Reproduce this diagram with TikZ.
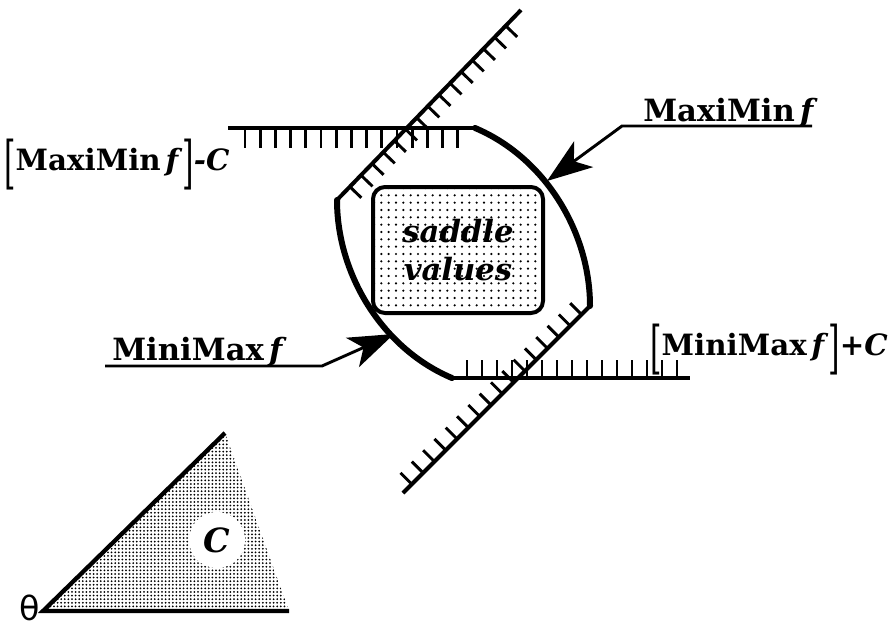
\documentclass[tikz,border=0pt]{standalone}
\usepackage{fontspec}
\setmainfont{DejaVu Serif}
\newfontfamily\thetafont{DejaVu Sans}
\usetikzlibrary{arrows.meta,patterns.meta}
\tikzset{
  hatchline/.style={line width=3pt},
  hatchtick/.style={line width=2.2pt},
  lensarc/.style={line width=4.5pt, line cap=round},
  pointer/.style={line width=2.2pt, line join=miter, -{Stealth[length=34pt,width=24pt,inset=9pt]}},
  lbl/.style={inner sep=0pt, font=\fontsize{23}{27}\selectfont\bfseries},
  brlbl/.style={inner sep=0pt, font=\fontsize{22}{26}\selectfont\bfseries},
  edgeline/.style={line width=3.2pt},
}
\newcommand{\lbrk}{\raisebox{-0.42em}{\scalebox{1}[1.95]{\mdseries[}}}
\newcommand{\rbrk}{\raisebox{-0.42em}{\scalebox{1}[1.95]{\mdseries]}}}
\begin{document}
\begin{tikzpicture}[x=0.75pt,y=-0.75pt]
\useasboundingbox (0,0) rectangle (893,628);
% triangle C
\coordinate (tv) at (43,611);
\coordinate (tt) at (225,433);
\coordinate (tr) at (289,611);
\fill[pattern={Dots[radius=0.75pt,distance=2.7pt]}] (tv) -- (tt) -- (tr) -- cycle;
\draw[edgeline] (tr) -- (tv) -- (tt);
\node[circle, fill=white, minimum size=42pt, inner sep=0pt, font=\fontsize{25}{28}\selectfont\bfseries\itshape] (cset) at (217,540) {C};
\node[anchor=base east, inner sep=1pt, font=\thetafont\fontsize{25}{28}\selectfont] (theta) at (41,620) {θ};
% saddle box
\node[draw, line width=3pt, rounded corners=9pt, pattern={Dots[radius=0.9pt,distance=5.5pt]},
  minimum width=127.5pt, minimum height=94.5pt, align=center,
  font=\fontsize{23}{29}\selectfont\bfseries\itshape] (sv) at (458,250) {saddle\\values};
% path A
\coordinate (ta) at (521,10);
\coordinate (ka) at (337,200);
\coordinate (la) at (452,378);
\coordinate (ra) at (690,378);
\draw[hatchline] (ta) -- (ka);
\draw[lensarc] (ka) .. controls (337,275) and (383,349) .. (la);
\draw[hatchline] (la) -- (ra);
% path B
\coordinate (lb) at (228,128);
\coordinate (kb1) at (475,128);
\coordinate (kb2) at (590,306);
\coordinate (bb) at (403,493);
\draw[hatchline] (lb) -- (kb1);
\draw[lensarc] (kb1) .. controls (544,157) and (590,231) .. (kb2);
\draw[hatchline] (kb2) -- (bb);
% ticks
\foreach \i in {0,...,14} \draw[hatchtick] ({245+15.2*\i},128) -- ++(0,20);
\foreach \i in {0,...,14} \draw[hatchtick] ({467+15*\i},378) -- ++(0,-18);
\foreach \i in {0,...,14} \draw[hatchtick] ({521-0.6957*(22+16*\i)},{10+0.7184*(22+16*\i)}) -- ++(11.5,11.1);
\foreach \i in {0,...,15} \draw[hatchtick] ({590-0.7071*(12+16*\i)},{306+0.7071*(12+16*\i)}) -- ++(-11.3,-11.3);
% labels and pointers
\node[lbl, anchor=base west] (maxmin) at (643,121) {MaxiMin\,\textit{f}};
\coordinate (mxA) at (812,126);
\coordinate (mxB) at (622,126);
\coordinate (mxT) at (547,181);
\draw[pointer] (mxA) -- (mxB) -- (mxT);
\node[lbl, anchor=base west] (minmax) at (112,360) {MiniMax\,\textit{f}};
\coordinate (mnA) at (105,366);
\coordinate (mnB) at (322,366);
\coordinate (mnT) at (394,334);
\draw[pointer] (mnA) -- (mnB) -- (mnT);
\node[brlbl, anchor=base west] (maxminC) at (4,170) {\lbrk MaxiMin\,\textit{f}\rbrk\textit{-C}};
\node[brlbl, anchor=base west] (minmaxC) at (650,355) {\lbrk MiniMax\,\textit{f}\rbrk\textit{+C}};
\end{tikzpicture}
\end{document}
